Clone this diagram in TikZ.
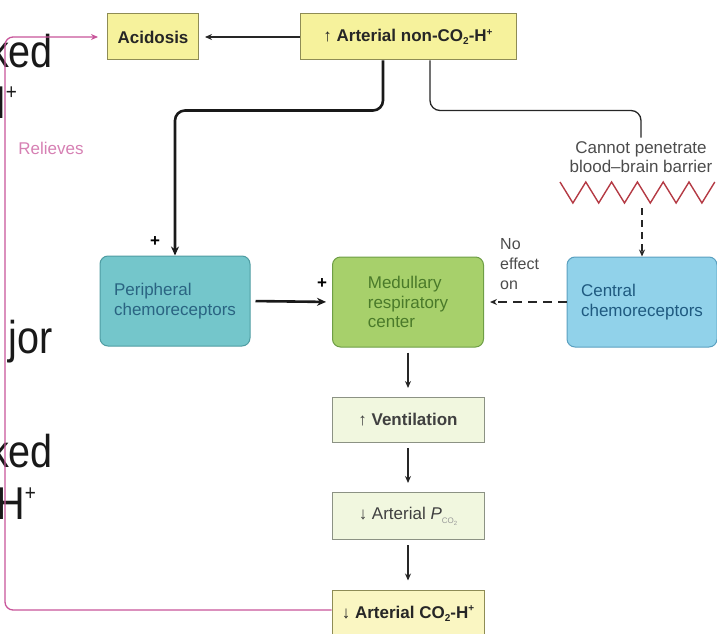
\documentclass[tikz,border=0pt]{standalone}
\usepackage{fontspec}
\setmainfont{Liberation Sans}
\usetikzlibrary{arrows.meta,calc}
\definecolor{yfill}{HTML}{F6F29C}
\definecolor{ylight}{HTML}{FAF6C2}
\definecolor{yedge}{HTML}{8E8C55}
\definecolor{gfill}{HTML}{F1F7DF}
\definecolor{gedge}{HTML}{8C9284}
\definecolor{perfill}{HTML}{74C6CB}
\definecolor{peredge}{HTML}{4E9CA2}
\definecolor{pertext}{HTML}{2A6482}
\definecolor{medfill}{HTML}{A7D06B}
\definecolor{mededge}{HTML}{6E9E45}
\definecolor{medtext}{HTML}{4A7A2A}
\definecolor{cenfill}{HTML}{91D2EA}
\definecolor{cenedge}{HTML}{5AA0C0}
\definecolor{centext}{HTML}{1F5A80}
\definecolor{relief}{HTML}{C8559A}
\definecolor{barrier}{HTML}{C8404C}
\newcommand{\sub}[1]{\raisebox{-0.35ex}{\fontsize{10}{10}\selectfont #1}}
\newcommand{\sur}[1]{\raisebox{0.7ex}{\fontsize{10}{10}\selectfont #1}}
\newcommand{\narrow}[1]{\scalebox{0.86}[1]{#1}}
\begin{document}
\begin{tikzpicture}[x=1pt,y=-1pt,
  font=\fontsize{17}{19.5}\selectfont,
  topbox/.style={draw=yedge, fill=yfill, line width=1pt, minimum height=46pt,
    font=\fontsize{17}{20}\selectfont\bfseries, text=black!85},
  chemo/.style={rounded corners=8pt, line width=1pt, minimum width=150pt,
    minimum height=90pt, align=left},
  flowbox/.style={draw=gedge, fill=gfill, line width=1pt, minimum width=152pt,
    minimum height=45pt, text=black!75},
  link/.style={-{Stealth[length=7pt,width=6pt]}, line width=1.2pt, black!85},
  heavy/.style={-{Stealth[length=9pt,width=8pt]}, line width=2.6pt, black!90},
  bigtext/.style={font=\fontsize{46}{46}\selectfont, text=black!90, inner sep=0pt},
  sign/.style={font=\fontsize{17}{17}\selectfont\bfseries, inner sep=0pt}]
\useasboundingbox (0,0) rectangle (717,634);
\clip (0,0) rectangle (717,634);

% large lettering running in from the left
\node[bigtext, anchor=base east] (w1) at (53,67) {\narrow{ked}};
\node[bigtext, anchor=base east] (w2) at (17,118) {\narrow{H\raisebox{0.4em}{\fontsize{22}{22}\selectfont +}}};
\node[bigtext, anchor=base east] (w3) at (53,353) {\narrow{jor}};
\node[bigtext, anchor=base east] (w4) at (53,467) {\narrow{ked}};
\node[bigtext, anchor=base east] (w5) at (36,519) {\narrow{H\raisebox{0.4em}{\fontsize{22}{22}\selectfont +}}};

% boxes
\node[topbox, minimum width=91pt] (aci) at (153,37) {Acidosis};
\node[topbox, minimum width=216pt] (art) at (408,37)
  {↑ Arterial non-CO\sub{2}-H\sur{+}};
\node[chemo, draw=peredge, fill=perfill, text=pertext] (per) at (175,301)
  {Peripheral\\chemoreceptors};
\node[chemo, draw=mededge, fill=medfill, text=medtext, minimum width=151pt] (med) at (408,302)
  {Medullary\\respiratory\\center};
\node[chemo, draw=cenedge, fill=cenfill, text=centext] (cen) at (642,302)
  {Central\\chemoreceptors};
\node[flowbox, font=\fontsize{17}{20}\selectfont\bfseries] (ven) at (408,420) {↑ Ventilation};
\node[flowbox, minimum height=47pt] (pco) at (408,516)
  {↓ Arterial \textit{P}\raisebox{-0.5ex}{\textcolor{black!40}{\fontsize{8}{8}\selectfont CO\raisebox{-0.3ex}{\fontsize{6}{6}\selectfont 2}}}};
\node[flowbox, fill=ylight, draw=yedge, minimum height=48pt,
  font=\fontsize{17}{20}\selectfont\bfseries, text=black!85] (bot) at (408,614)
  {\raisebox{0.25em}{↓ Arterial CO\sub{2}-H\sur{+}}};

% labels
\node[align=center, text=black!70] (cpt) at (641,157)
  {Cannot penetrate\\blood–brain barrier};
\node[text=relief!75] (rel) at (51,148) {Relieves};
\node[align=left, text=black!70, anchor=north west,
  font=\fontsize{16}{20}\selectfont, inner sep=0pt] (noeff) at (500,238) {No\\effect\\on};
\node[sign] (p1) at (155,242) {+};
\node[sign] (p2) at (322,284) {+};

% blood-brain barrier
\coordinate (zz) at (560,182);
\draw[barrier!90!black, line width=1.4pt, line join=miter] (zz)
  \foreach \i in {1,...,6}{ -- ++(12.9,21) -- ++(12.9,-21)};

% connectors
\coordinate (lft) at (5,37);
\draw[relief, line width=1.3pt, rounded corners=8pt, -{Stealth[length=7pt,width=6pt]},
  shorten >=9pt] ([yshift=4pt]bot.west) -| (lft) -- (aci.west);
\draw[link, shorten >=6pt] (art.west) -- (aci.east);
\draw[heavy, rounded corners=10pt] ([xshift=-25pt]art.south) -- ++(0,50) -| (per.north);
\draw[line width=1.3pt, black!85, rounded corners=10pt]
  ([xshift=22pt]art.south) -- ++(0,50) -| (cpt.north);
\coordinate (zb) at (642,208);
\draw[link, dashed, dash pattern=on 7pt off 5pt] (zb) -- (cen.north);
\draw[link, dashed, dash pattern=on 9pt off 6pt, shorten >=6pt] (cen.west) -- (med.east);
\draw[heavy, shorten <=5pt, shorten >=6pt] (per.east) -- (med.west);
\draw[link, shorten <=5pt, shorten >=9pt] (med.south) -- (ven.north);
\draw[link, shorten <=5pt, shorten >=9pt] (ven.south) -- (pco.north);
\draw[link, shorten <=5pt, shorten >=9pt] (pco.south) -- (bot.north);
\end{tikzpicture}
\end{document}
